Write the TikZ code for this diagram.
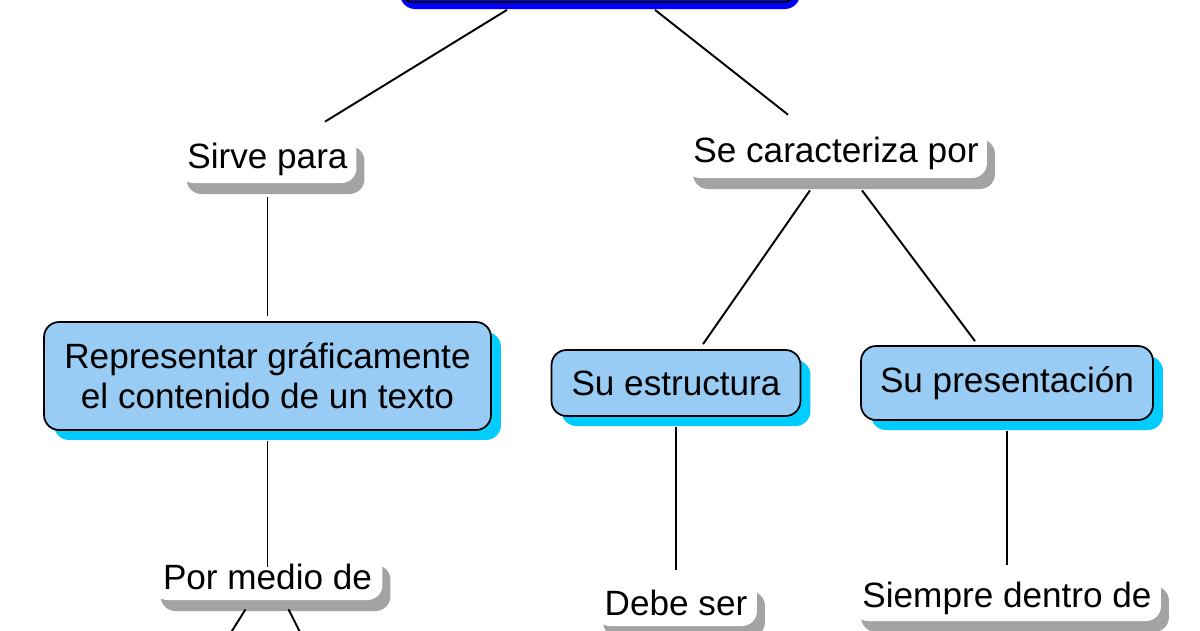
\documentclass[tikz,border=0pt]{standalone}
\usepackage{fontspec}
\setmainfont{Liberation Sans}
\usetikzlibrary{shadows}
\usepackage{xcolor}
\definecolor{azulclaro}{RGB}{153,204,245}
\definecolor{celeste}{RGB}{0,204,255}
\definecolor{sombra}{RGB}{163,163,163}

\begin{document}
\begin{tikzpicture}[x=0.02cm, y=-0.02cm,
		every node/.style={font=\fontsize{20}{22.8}\selectfont},
		tema/.style={draw=black, line width=1pt, fill=blue, rounded corners=0.3cm, inner sep=0pt,
			drop shadow={shadow xshift=0.04cm, shadow yshift=-0.14cm, fill=blue, opacity=1}},
		concepto/.style={draw=black, line width=1pt, fill=azulclaro, rounded corners=0.3cm, inner sep=0pt, align=center,
			drop shadow={shadow xshift=0.2cm, shadow yshift=-0.2cm, fill=celeste, opacity=1}},
		enlace/.style={fill=white, rounded corners=0.3cm, inner sep=0pt,
			drop shadow={shadow xshift=0.16cm, shadow yshift=-0.22cm, fill=sombra, opacity=1}},
		linea/.style={line width=1.1pt}]
			\useasboundingbox (0,0) rectangle (1200,630);
			
			% concepto principal
			\node[tema, minimum width=8cm, minimum height=0.88cm] (mapa) at (598,-20) {};
			
			% rama izquierda
			\node[enlace, minimum width=3.56cm, minimum height=0.96cm] (sirve) at (267.5,159) {Sirve para};
			\node[concepto, minimum width=8.94cm, minimum height=2.16cm] (repr) at (267.5,376)
				{Representar gráficamente\\el contenido de un texto};
			\node[enlace, minimum width=4.6cm, minimum height=0.92cm] (medio) at (267.5,577) {Por medio de};
			\coordinate (medioA) at (220,650);
			\coordinate (medioB) at (309,650);
			
			% rama derecha
			\node[enlace, minimum width=6.04cm, minimum height=1cm] (carac) at (836,153) {Se caracteriza por};
			\node[concepto, minimum width=4.98cm, minimum height=1.32cm] (estruc) at (676,383) {Su estructura};
			\node[concepto, minimum width=5.84cm, minimum height=1.48cm] (present) at (1007,383) {Su presentación};
			\node[enlace, minimum width=3.24cm, minimum height=0.92cm] (debe) at (676,603) {Debe ser};
			\node[enlace, minimum width=6.16cm, minimum height=0.92cm] (siempre) at (1007,598) {Siempre dentro de};
			
			% conectores
			\draw[linea] ([xshift=-1.82cm,yshift=-0.14cm]mapa.south) -- ([xshift=1.15cm,yshift=0.26cm]sirve.north);
			\draw[linea] ([xshift=1.14cm,yshift=-0.14cm]mapa.south) -- ([xshift=-0.96cm,yshift=0.26cm]carac.north);
			\draw[linea] ([yshift=-0.28cm]sirve.south) -- ([yshift=0.1cm]repr.north);
			\draw[linea] ([yshift=-0.2cm]repr.south) -- ([yshift=-0.26cm]medio.north);
			\draw[linea] ([xshift=-0.44cm,yshift=-0.18cm]medio.south) -- (medioA);
			\draw[linea] ([xshift=0.42cm,yshift=-0.18cm]medio.south) -- (medioB);
			\draw[linea] ([xshift=-0.52cm,yshift=-0.24cm]carac.south) -- ([xshift=0.54cm,yshift=0.1cm]estruc.north);
			\draw[linea] ([xshift=0.52cm,yshift=-0.24cm]carac.south) -- ([xshift=-0.64cm,yshift=0.08cm]present.north);
			\draw[linea] ([yshift=-0.2cm]estruc.south) -- ([yshift=0.2cm]debe.north);
			\draw[linea] ([yshift=-0.2cm]present.south) -- ([yshift=0.2cm]siempre.north);
		\end{tikzpicture}
\end{document}
